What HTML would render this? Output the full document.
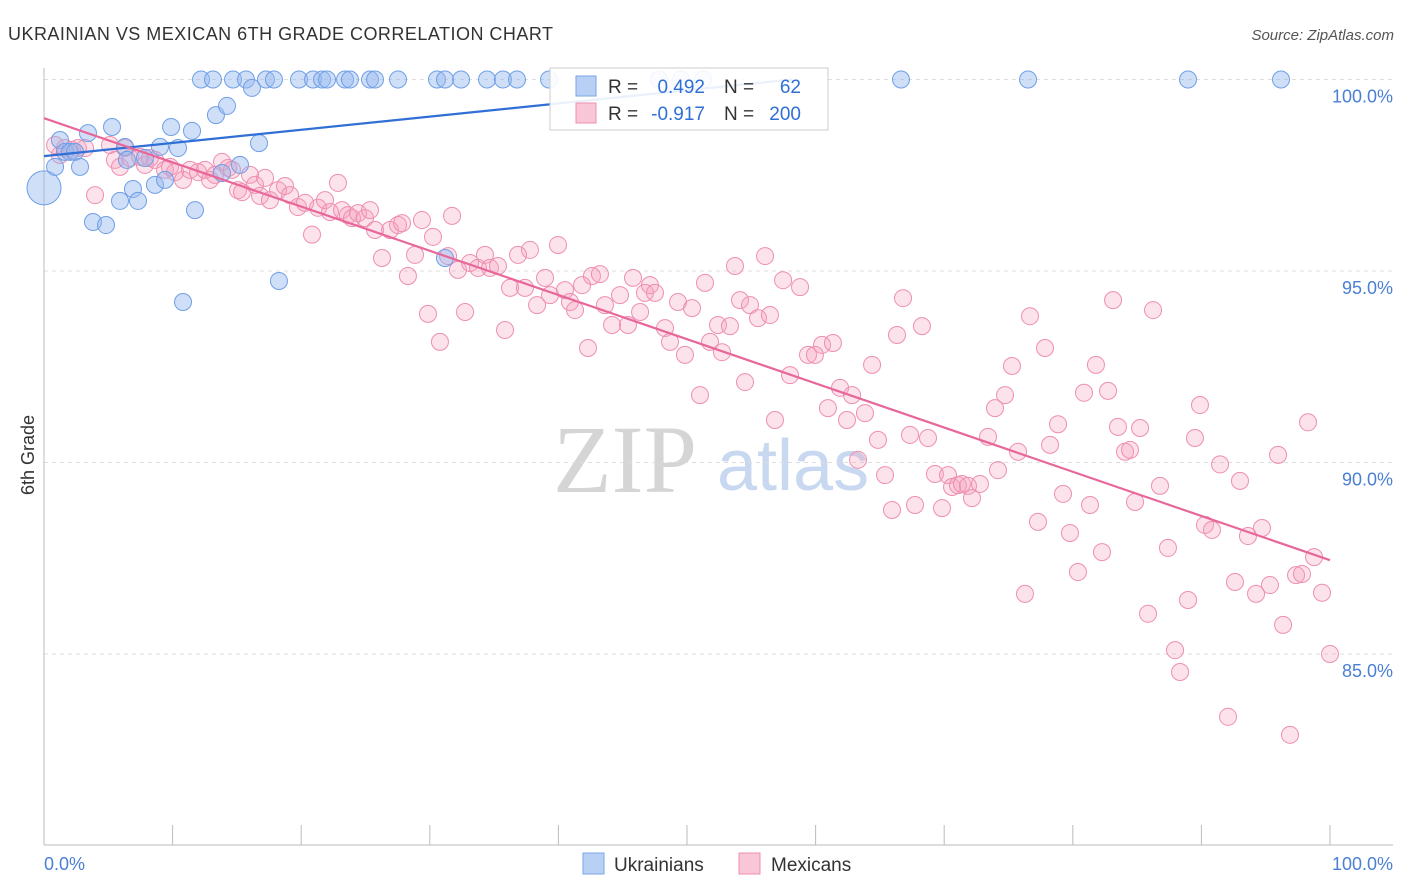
<!DOCTYPE html>
<html><head><meta charset="utf-8">
<style>
body{margin:0;background:#fff;font-family:"Liberation Sans",sans-serif;}
svg{display:block}
</style></head>
<body>
<svg id="chart" width="1406" height="892">
<text x="8" y="40" font-size="18" fill="#333" textLength="545">UKRAINIAN VS MEXICAN 6TH GRADE CORRELATION CHART</text>
<text x="1394" y="40" font-size="15" fill="#555" font-style="italic" text-anchor="end">Source: ZipAtlas.com</text>
<g>
<text x="553" y="492" font-size="96" fill="#d5d5d5" font-family="Liberation Serif,serif">ZIP</text>
<text x="717" y="490" font-size="72" fill="#c8d8f0">atlas</text>
</g>
<g id="grid"></g>
<g id="marks"></g>
<text transform="translate(34,455) rotate(-90)" font-size="18" fill="#333" text-anchor="middle">6th Grade</text>
<text x="44" y="870" font-size="18" fill="#4a7fd4">0.0%</text>
<text x="1393" y="870" font-size="18" fill="#4a7fd4" text-anchor="end">100.0%</text>
<g>
<rect x="550" y="68" width="278" height="62" fill="#fff" fill-opacity="0.9" stroke="#ccc"/>
<rect x="576" y="76" width="20" height="20" fill="#b9d0f5" stroke="#7aa6e8"/>
<rect x="576" y="103" width="20" height="20" fill="#f8c6d6" stroke="#ee8fb0"/>
<text x="608" y="93" font-size="19" fill="#333">R =</text>
<text x="705" y="93" font-size="19" fill="#2f6fd6" text-anchor="end">0.492</text>
<text x="724" y="93" font-size="19" fill="#333">N =</text>
<text x="801" y="93" font-size="19" fill="#2f6fd6" text-anchor="end">62</text>
<text x="608" y="120" font-size="19" fill="#333">R =</text>
<text x="705" y="120" font-size="19" fill="#2f6fd6" text-anchor="end">-0.917</text>
<text x="724" y="120" font-size="19" fill="#333">N =</text>
<text x="801" y="120" font-size="19" fill="#2f6fd6" text-anchor="end">200</text>
</g>
<g>
<rect x="583" y="853" width="21" height="21" fill="#b9d0f5" stroke="#7aa6e8"/>
<text x="614" y="871" font-size="19" fill="#333">Ukrainians</text>
<rect x="739" y="853" width="21" height="21" fill="#f8c6d6" stroke="#ee8fb0"/>
<text x="771" y="871" font-size="19" fill="#333">Mexicans</text>
</g>
</svg>
<script>
const yTicks=[100,95,90,85];
const yTickLabels=["100.0%","95.0%","90.0%","85.0%"];
const xTicks=[0,10,20,30,40,50,60,70,80,90,100];
const blueX=[0,0.86,1.24,1.63,2.02,2.41,2.8,3.42,3.81,4.82,5.29,5.91,6.3,6.45,6.92,7.31,7.85,8.63,9.02,9.41,9.88,10.42,10.81,11.51,11.74,12.21,13.14,13.37,13.84,14.23,14.7,15.24,15.71,16.17,16.72,17.26,17.88,18.27,19.83,20.92,21.62,22.01,23.41,23.79,25.35,25.74,27.53,30.56,31.18,32.43,34.45,35.69,36.78,39.27,47.82,49.53,51.24,66.64,76.52,88.96,96.19,31.18];
const blueY=[97.17,97.72,98.42,98.11,98.11,98.11,97.72,98.6,96.28,96.2,98.76,96.83,98.24,97.9,97.14,96.83,97.95,97.25,98.24,97.38,98.76,98.21,94.19,98.66,96.59,100,100,99.07,97.56,99.31,100,97.77,100,99.78,98.34,100,100,94.74,100,100,100,100,100,100,100,100,100,100,100,100,100,100,100,100,100,100,100,100,100,100,100,95.34];
const pinkX=[0.86,1.24,1.63,2.18,2.64,3.19,3.97,5.13,5.52,5.91,6.3,6.69,7.47,7.85,8.24,8.63,9.41,9.8,10.19,10.81,11.35,11.98,12.52,12.91,13.3,13.84,14.31,14.62,15.09,15.4,16.02,16.41,16.8,17.19,17.57,18.2,18.74,19.13,19.75,20.3,20.84,21.31,21.85,22.24,22.86,23.17,23.64,23.95,24.42,24.96,25.35,25.74,26.28,26.91,27.53,27.84,28.3,28.85,29.39,29.86,30.25,30.79,31.42,31.73,32.19,32.74,33.13,33.75,34.29,34.68,35.3,35.85,36.24,36.86,37.4,37.79,38.34,38.96,39.35,39.97,40.51,40.9,41.29,41.84,42.3,42.61,43.23,43.62,44.17,44.79,45.41,45.8,46.35,46.73,47.12,47.51,48.29,48.68,49.3,49.84,50.39,51.01,51.4,51.79,52.41,52.72,53.34,53.73,54.12,54.51,54.9,55.52,56.07,56.45,56.84,57.47,58.01,58.79,59.41,59.95,60.5,60.96,61.35,61.9,62.44,62.83,63.3,63.84,64.39,64.85,65.4,65.94,66.33,66.8,67.34,67.73,68.27,68.74,69.28,69.83,70.3,70.61,71.07,71.38,71.85,72.16,72.78,73.41,73.95,74.18,74.73,75.27,75.74,76.28,76.67,77.29,77.84,78.23,78.85,79.24,79.78,80.4,80.87,81.34,81.8,82.27,82.74,83.13,83.51,84.06,84.45,84.84,85.23,85.85,86.24,86.78,87.4,87.95,88.34,88.96,89.5,89.89,90.28,90.82,91.45,92.07,92.61,93.0,93.62,94.25,94.71,95.33,95.96,96.35,96.89,97.36,97.82,98.29,98.76,99.38,100];
const pinkY=[98.29,98.03,98.21,98.16,98.21,98.21,96.98,98.29,97.9,97.72,98.21,97.95,97.98,97.77,97.95,97.9,97.64,97.72,97.58,97.38,97.64,97.58,97.64,97.38,97.51,97.85,97.69,97.64,97.11,97.06,97.51,97.25,96.96,97.43,96.85,97.11,97.22,96.98,96.67,96.78,95.95,96.65,96.85,96.54,97.3,96.59,96.46,96.38,96.51,96.38,96.59,96.07,95.34,96.07,96.2,96.25,94.87,95.42,96.33,93.88,95.89,93.15,95.39,96.44,95.03,93.93,95.21,95.08,95.42,95.08,95.13,93.46,94.56,95.42,94.56,95.55,94.11,94.82,94.37,95.68,94.5,94.19,93.98,94.63,92.99,94.87,94.92,94.11,93.59,94.37,93.59,94.82,93.93,94.43,94.63,94.43,93.51,93.15,94.19,92.81,94.03,91.76,94.69,93.15,93.59,92.88,93.56,95.13,94.24,92.1,94.11,93.77,95.39,93.85,91.11,94.76,92.28,94.58,92.81,92.81,93.07,91.42,93.12,91.95,91.11,91.76,90.07,91.29,92.55,90.59,89.67,88.76,93.33,94.29,90.72,88.89,93.56,90.64,89.7,88.81,89.67,89.36,89.41,89.44,89.39,89.07,89.44,90.67,91.42,89.8,91.76,92.52,90.28,86.57,93.82,88.45,92.99,90.46,91.0,89.18,88.16,87.14,91.82,88.89,92.55,87.66,91.87,94.24,90.93,90.28,90.33,88.97,90.9,86.05,93.98,89.39,87.77,85.1,84.53,86.41,90.64,91.5,88.37,88.24,89.95,83.36,86.88,89.52,88.08,86.57,88.29,86.8,90.2,85.76,82.89,87.06,87.09,91.05,87.53,86.6,85.0];
const blueTrend=[0,98.0,58.2,100.0];
const pinkTrend=[0,98.99,100,87.45];

const NS="http://www.w3.org/2000/svg";
const X0=44,X1=1330,Y100=79.5,PXPER=38.3;
function sx(v){return X0+(X1-X0)*v/100;}
function sy(v){return Y100+(100-v)*PXPER;}
function mk(tag,attrs,parent){const e=document.createElementNS(NS,tag);for(const k in attrs)e.setAttribute(k,attrs[k]);parent.appendChild(e);return e;}
const grid=document.getElementById('grid');
const marks=document.getElementById('marks');
yTicks.forEach((t,i)=>{
  const l=mk('line',{x1:44,x2:1393,y1:sy(t),y2:sy(t),stroke:'#ddd','stroke-dasharray':'4,4'},grid);
  
  
  const tx=mk('text',{x:1393,y:sy(t)+23,'font-size':18,fill:'#4a7fd4','text-anchor':'end'},grid);
  tx.textContent=yTickLabels[i];
  
  
});
const ax=mk('line',{x1:44,x2:1393,y1:845,y2:845,stroke:'#bbb'},grid);


const ay=mk('line',{x1:44,x2:44,y1:68,y2:845,stroke:'#bbb'},grid);


xTicks.forEach(t=>{
  const tk=mk('line',{x1:sx(t),x2:sx(t),y1:825,y2:845,stroke:'#bbb'},grid);
  
  
});
pinkX.forEach((x,i)=>{
  const c=mk('circle',{cx:sx(x),cy:sy(pinkY[i]),r:8.5,fill:'rgba(245,160,190,0.3)',stroke:'#ee8fb0','stroke-width':1},marks);
  
  
});
blueX.forEach((x,i)=>{
  const c=mk('circle',{cx:sx(x),cy:sy(blueY[i]),r:i===0?17:8.5,fill:'rgba(150,185,240,0.45)',stroke:'#6f9fe6','stroke-width':1},marks);
  
  
});
const bt=mk('line',{x1:sx(blueTrend[0]),y1:sy(blueTrend[1]),x2:sx(blueTrend[2]),y2:sy(blueTrend[3]),stroke:'#2f6fd6','stroke-width':2.2},marks);


const pt=mk('line',{x1:sx(pinkTrend[0]),y1:sy(pinkTrend[1]),x2:sx(pinkTrend[2]),y2:sy(pinkTrend[3]),stroke:'#e8679a','stroke-width':2.2},marks);


</script>
</body></html>
